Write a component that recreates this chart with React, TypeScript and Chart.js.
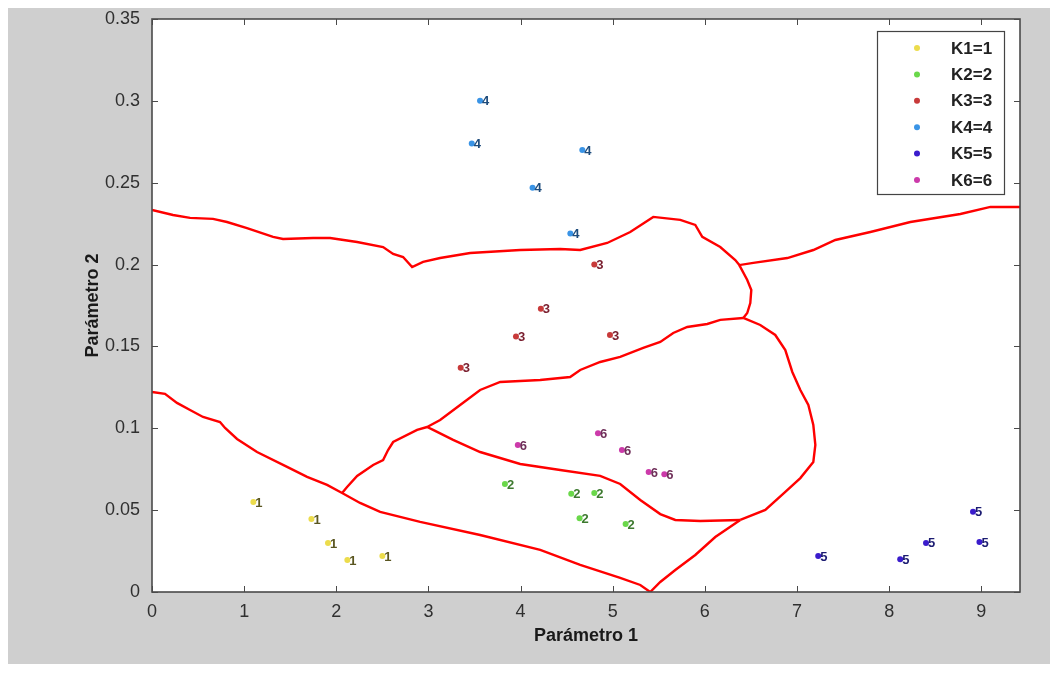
import React, { useEffect, useRef } from "react";
import { Chart, registerables } from "chart.js";
Chart.register(...registerables);

// ---- tick labels ----
const xTickValues = [0, 1, 2, 3, 4, 5, 6, 7, 8, 9];
const yTickValues = [0, 0.05, 0.1, 0.15, 0.2, 0.25, 0.3, 0.35];
const yTickLabels = ["0", "0.05", "0.1", "0.15", "0.2", "0.25", "0.3", "0.35"];

// ---- classes ----
const legendNames = ["K1=1", "K2=2", "K3=3", "K4=4", "K5=5", "K6=6"];
const classMarks = ["1", "2", "3", "4", "5", "6"];
const classColors = ["#ecdc4c", "#6ad84a", "#c83a3a", "#3a94e6", "#3a1ccc", "#cc3aaa"];
const markColors = ["#5a5620", "#3e7a30", "#7a2030", "#1e4c7c", "#1c1c72", "#70305a"];

const class1X = [1.1, 1.73, 1.91, 2.12, 2.5];
const class1Y = [0.055, 0.0446, 0.0299, 0.0195, 0.022];
const class2X = [3.83, 4.55, 4.8, 4.64, 5.14];
const class2Y = [0.066, 0.06, 0.0605, 0.045, 0.0415];
const class3X = [4.8, 4.22, 3.95, 4.97, 3.35];
const class3Y = [0.2, 0.173, 0.156, 0.157, 0.137];
const class4X = [3.56, 3.47, 4.67, 4.13, 4.54];
const class4Y = [0.3, 0.274, 0.27, 0.247, 0.219];
const class5X = [7.23, 8.12, 8.4, 8.91, 8.98];
const class5Y = [0.022, 0.02, 0.03, 0.049, 0.0305];
const class6X = [3.97, 4.84, 5.1, 5.39, 5.56];
const class6Y = [0.0898, 0.097, 0.0867, 0.0733, 0.072];

// ---- decision boundaries (data units) ----
const boundA_X = [0, 0.228, 0.413, 0.662, 0.814, 1.031, 1.314, 1.422, 1.748, 1.933, 2.226, 2.508, 2.617, 2.725, 2.823, 2.942, 3.127, 3.453, 3.996, 4.43, 4.647, 4.94, 5.19, 5.44, 5.733, 5.896, 5.972, 6.167, 6.33, 6.374, 6.526, 6.895, 7.177, 7.416, 7.796, 8.23, 8.773, 9.099, 9.42];
const boundA_Y = [0.2334, 0.2303, 0.2285, 0.2279, 0.226, 0.2223, 0.2169, 0.2156, 0.2162, 0.2162, 0.2138, 0.2107, 0.2065, 0.2046, 0.1985, 0.2016, 0.204, 0.2071, 0.2089, 0.2095, 0.2089, 0.2132, 0.2199, 0.2291, 0.2273, 0.2242, 0.2169, 0.2107, 0.2028, 0.1997, 0.201, 0.204, 0.2089, 0.215, 0.2199, 0.226, 0.2309, 0.2352, 0.2352];
const boundB_X = [6.374, 6.46, 6.504, 6.493, 6.46, 6.417];
const boundB_Y = [0.1997, 0.1906, 0.1845, 0.1765, 0.1704, 0.1674];
const boundC_X = [6.417, 6.167, 6.026, 5.809, 5.657, 5.516, 5.331, 5.081, 4.864, 4.647, 4.538, 4.213, 3.779, 3.561, 3.344, 3.127, 2.986];
const boundC_Y = [0.1674, 0.1662, 0.1637, 0.1619, 0.1582, 0.1527, 0.1491, 0.1436, 0.1405, 0.1356, 0.1313, 0.1295, 0.1283, 0.1234, 0.1142, 0.1051, 0.1008];
const boundD_X = [2.986, 2.877, 2.617, 2.562, 2.508, 2.4, 2.226, 2.117, 2.063];
const boundD_Y = [0.1008, 0.099, 0.0916, 0.0867, 0.0806, 0.0776, 0.0709, 0.0641, 0.0605];
const boundE_X = [0, 0.141, 0.271, 0.413, 0.554, 0.738, 0.793, 0.923, 1.14, 1.466, 1.683, 1.9, 2.063, 2.258, 2.476, 2.91, 3.561, 4.213, 4.647, 5.081, 5.299, 5.407];
const boundE_Y = [0.1222, 0.121, 0.1155, 0.1112, 0.1069, 0.1038, 0.1002, 0.0935, 0.0855, 0.0764, 0.0703, 0.0654, 0.0605, 0.0544, 0.0489, 0.0428, 0.0348, 0.0257, 0.0165, 0.0086, 0.0043, 0];
const boundF_X = [2.986, 3.051, 3.268, 3.561, 3.996, 4.43, 4.864, 5.081, 5.299, 5.516, 5.679, 5.95, 6.384];
const boundF_Y = [0.1008, 0.099, 0.0929, 0.0855, 0.0782, 0.0745, 0.0709, 0.066, 0.0562, 0.0476, 0.044, 0.0434, 0.044];
const boundG_X = [6.417, 6.601, 6.764, 6.873, 6.949, 7.036, 7.123, 7.177, 7.199, 7.177, 7.036, 6.873, 6.656, 6.384];
const boundG_Y = [0.1674, 0.1631, 0.157, 0.1478, 0.1344, 0.1234, 0.1142, 0.102, 0.0898, 0.0794, 0.0696, 0.0611, 0.0501, 0.044];
const boundH_X = [6.384, 6.113, 5.896, 5.679, 5.516, 5.407];
const boundH_Y = [0.044, 0.0336, 0.0226, 0.0134, 0.0061, 0];

const classXs = [class1X, class2X, class3X, class4X, class5X, class6X];
const classYs = [class1Y, class2Y, class3Y, class4Y, class5Y, class6Y];
const boundXs = [boundA_X, boundB_X, boundC_X, boundD_X, boundE_X, boundF_X, boundG_X, boundH_X];
const boundYs = [boundA_Y, boundB_Y, boundC_Y, boundD_Y, boundE_Y, boundF_Y, boundG_Y, boundH_Y];

const zip = (xs: number[], ys: number[]) => xs.map((x, i) => ({ x, y: ys[i] }));

const FONT = "'Liberation Sans', Arial, Helvetica, sans-serif";

const framePlugin = {
  id: "matlabFrame",
  beforeDraw(chart: any) {
    const { ctx, chartArea: a } = chart;
    ctx.save();
    ctx.fillStyle = "#ffffff";
    ctx.fillRect(a.left, a.top, a.right - a.left, a.bottom - a.top);
    ctx.restore();
  },
  afterDatasetsDraw(chart: any) {
    const { ctx, chartArea: a } = chart;
    // point labels
    ctx.save();
    ctx.font = `bold 13px ${FONT}`;
    ctx.textBaseline = "middle";
    ctx.textAlign = "left";
    chart.data.datasets.forEach((ds: any, di: number) => {
      if (ds.classIndex === undefined) return;
      const meta = chart.getDatasetMeta(di);
      meta.data.forEach((pt: any) => {
        ctx.fillStyle = markColors[ds.classIndex];
        ctx.fillText(classMarks[ds.classIndex], pt.x + 2, pt.y + 1);
      });
    });
    ctx.restore();

    // frame and inward ticks
    const xs = chart.scales.x;
    const ys = chart.scales.y;
    ctx.save();
    ctx.strokeStyle = "#4a4a4a";
    ctx.lineWidth = 1.6;
    ctx.strokeRect(a.left, a.top, a.right - a.left, a.bottom - a.top);
    ctx.lineWidth = 1;
    ctx.beginPath();
    const tl = 6;
    xTickValues.forEach((v) => {
      const px = Math.round(xs.getPixelForValue(v)) + 0.5;
      ctx.moveTo(px, a.bottom);
      ctx.lineTo(px, a.bottom - tl);
      ctx.moveTo(px, a.top);
      ctx.lineTo(px, a.top + tl);
    });
    yTickValues.forEach((v) => {
      const py = Math.round(ys.getPixelForValue(v)) + 0.5;
      ctx.moveTo(a.left, py);
      ctx.lineTo(a.left + tl, py);
      ctx.moveTo(a.right, py);
      ctx.lineTo(a.right - tl, py);
    });
    ctx.stroke();
    ctx.restore();

    // legend
    const bw = 127;
    const bh = 163;
    const bx = a.right - 16 - bw;
    const by = a.top + 12;
    ctx.save();
    ctx.fillStyle = "#ffffff";
    ctx.fillRect(bx, by, bw, bh);
    ctx.strokeStyle = "#444444";
    ctx.lineWidth = 1.2;
    ctx.strokeRect(bx + 0.5, by + 0.5, bw, bh);
    ctx.font = `bold 17px ${FONT}`;
    ctx.textBaseline = "middle";
    ctx.textAlign = "left";
    legendNames.forEach((name, i) => {
      const cy = by + 17 + i * 26.4;
      ctx.fillStyle = classColors[i];
      ctx.beginPath();
      ctx.arc(bx + 40, cy, 3, 0, Math.PI * 2);
      ctx.fill();
      ctx.fillStyle = "#222222";
      ctx.fillText(name, bx + 74, cy + 1);
    });
    ctx.restore();
  },
};

export default function App() {
  const ref = useRef<HTMLCanvasElement | null>(null);
  useEffect(() => {
    if (!ref.current) return;
    const datasets: any[] = [];
    boundXs.forEach((bx, i) => {
      datasets.push({
        data: zip(bx, boundYs[i]),
        showLine: true,
        borderColor: "#ff0000",
        borderWidth: 2.4,
        pointRadius: 0,
        pointHoverRadius: 0,
        tension: 0,
        fill: false,
        order: 2,
      });
    });
    classXs.forEach((cx, i) => {
      datasets.push({
        classIndex: i,
        label: legendNames[i],
        data: zip(cx, classYs[i]),
        showLine: false,
        pointRadius: 3,
        pointBackgroundColor: classColors[i],
        pointBorderWidth: 0,
        order: 1,
      });
    });
    const chart = new Chart(ref.current, {
      type: "scatter",
      data: { datasets },
      plugins: [framePlugin],
      options: {
        responsive: false,
        animation: false,
        devicePixelRatio: 1,
        layout: { padding: { left: 0, right: 38, top: 11, bottom: 0 } },
        plugins: { legend: { display: false }, tooltip: { enabled: false } },
        scales: {
          x: {
            type: "linear",
            min: 0,
            max: 9.42,
            grid: { display: false },
            border: { display: false },
            afterBuildTicks: (s: any) => {
              s.ticks = xTickValues.map((v) => ({ value: v }));
            },
            ticks: {
              padding: 1,
              color: "#303030",
              font: { family: FONT, size: 18 },
              maxRotation: 0,
              autoSkip: false,
              callback: (v: any) => String(v),
            },
            title: {
              display: true,
              text: "Parámetro 1",
              color: "#1a1a1a",
              font: { family: FONT, size: 18, weight: "bold" },
              padding: { top: 17, bottom: 17 },
            },
            afterFit: (s: any) => {
              s.height = 72;
              s.paddingLeft = 0;
              s.paddingRight = 0;
            },
          },
          y: {
            type: "linear",
            min: 0,
            max: 0.35,
            grid: { display: false },
            border: { display: false },
            afterBuildTicks: (s: any) => {
              s.ticks = yTickValues.map((v) => ({ value: v }));
            },
            ticks: {
              padding: 4,
              color: "#303030",
              font: { family: FONT, size: 18 },
              autoSkip: false,
              callback: (v: any) => {
                const idx = yTickValues.findIndex((t) => Math.abs(t - v) < 1e-9);
                return idx >= 0 ? yTickLabels[idx] : "";
              },
            },
            title: {
              display: true,
              text: "Parámetro 2",
              color: "#1a1a1a",
              font: { family: FONT, size: 18, weight: "bold" },
              padding: { top: 74, bottom: 74 },
            },
            afterFit: (s: any) => {
              s.width = 144;
              s.paddingTop = 0;
              s.paddingBottom = 0;
            },
          },
        },
      },
    });
    return () => chart.destroy();
  }, []);
  return (
    <canvas
      ref={ref}
      width={1050}
      height={656}
      style={{ display: "block", width: 1050, height: 656, background: "#cfcfcf" }}
    />
  );
}
